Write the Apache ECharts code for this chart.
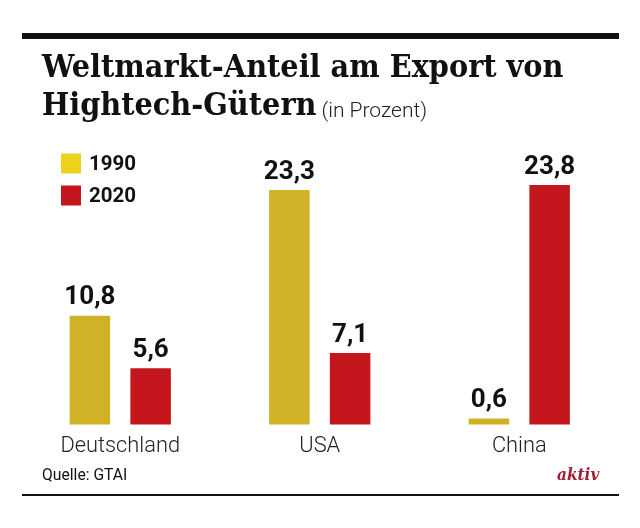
<!DOCTYPE html>
<html><head><meta charset="utf-8">
<style>html,body{margin:0;padding:0;background:#fff}#c{width:640px;height:528px}</style>
<script src="https://cdn.jsdelivr.net/npm/echarts@6/dist/echarts.min.js"></script>
</head><body><div id="c"></div>
<script>
const categories = ['Deutschland', 'USA', 'China'];
const values1990 = [10.8, 23.3, 0.6];
const values2020 = [5.6, 7.1, 23.8];
const seriesNames = ['1990', '2020'];
const chart = echarts.init(document.getElementById('c'), null, {renderer:'canvas'});
const label = {show:true, position:'top', distance:5, fontFamily:'Roboto', fontWeight:'bold', fontSize:26, color:'#111',
  formatter:p=>String(p.value).replace('.',',')};
chart.setOption({
  animation:false,
  backgroundColor:'#fff',
  title:{
    left:42, top:50, padding:0, itemGap:0,
    text:'{a|Weltmarkt-Anteil am Export von}\n{a|Hightech-Gütern} {b|(in Prozent)}',
    textStyle:{rich:{
      a:{fontFamily:'"DejaVu Serif Condensed","DejaVu Serif"',fontWeight:'bold',fontSize:32,color:'#111',lineHeight:38},
      b:{fontFamily:'Roboto',fontWeight:300,fontSize:21,color:'#222',lineHeight:38,padding:[10,0,0,0]}
    }}
  },
  legend:{
    orient:'vertical', left:61, top:152, itemWidth:20, itemHeight:20, itemGap:9, padding:0,
    selectedMode:false, icon:'rect',
    formatter:n=>`{t|${n}}`,
    textStyle:{rich:{t:{fontFamily:'Roboto',fontWeight:'bold',fontSize:20.5,color:'#111',lineHeight:14,padding:[2,0,0,3]}}},
    data:[{name:seriesNames[0],itemStyle:{color:'#EDD21B'}},{name:seriesNames[1],itemStyle:{color:'#C5161D'}}]
  },
  grid:{left:20.5,width:598.5,top:122.7,height:301.8},
  xAxis:{type:'category',data:categories,axisLine:{show:false},axisTick:{show:false},
    axisLabel:{fontFamily:'Roboto',fontWeight:300,fontSize:21.8,color:'#222',margin:11}},
  yAxis:{type:'value',min:0,max:30,show:false,splitLine:{show:false}},
  series:[
    {name:seriesNames[0],type:'bar',data:values1990,barWidth:40.5,barGap:'50%',itemStyle:{color:'#CFB225'},label},
    {name:seriesNames[1],type:'bar',data:values2020,barWidth:40.5,itemStyle:{color:'#C5161D'},label}
  ],
  graphic:[
    {type:'rect',shape:{x:22,y:33,width:597,height:6},style:{fill:'#111'}},
    {type:'rect',shape:{x:22,y:494,width:597,height:2},style:{fill:'#111'}},
    {type:'text',left:42,top:468,style:{text:'Quelle: GTAI',font:'400 15.7px Roboto',fill:'#111'}},
    {type:'text',left:557,top:467,style:{text:'aktiv',font:'italic bold 17px "DejaVu Serif Condensed","DejaVu Serif"',fill:'#A51E33'}}
  ]
});
</script></body></html>
